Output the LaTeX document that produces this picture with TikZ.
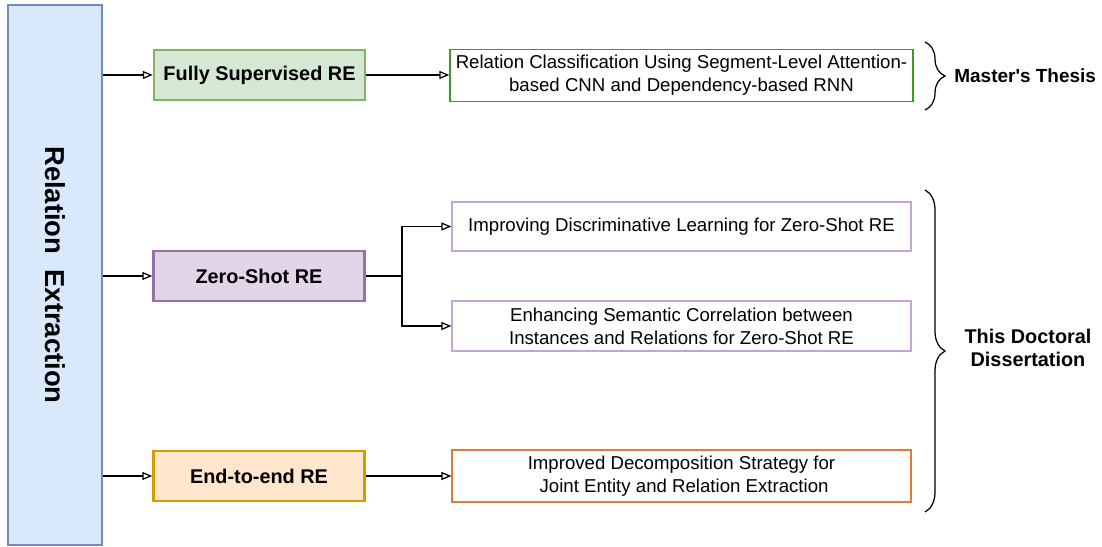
\documentclass[tikz,border=0pt]{standalone}
\usepackage{fontspec}
\setmainfont{Liberation Sans}
\usepackage{xcolor}
\usepackage{tikz}
\usetikzlibrary{shapes,arrows.meta,calc}
\usetikzlibrary{decorations.pathreplacing}
\definecolor{reBlueFill}{HTML}{DAE8FC}
\definecolor{reBlueLine}{HTML}{6C8EBF}
\definecolor{reGreenFill}{HTML}{D5E8D4}
\definecolor{reGreenLine}{HTML}{82B366}
\definecolor{reGreenDark}{HTML}{3F9A1F}
\definecolor{rePurpleFill}{HTML}{E1D5E7}
\definecolor{rePurpleLine}{HTML}{9673A6}
\definecolor{rePurpleLight}{HTML}{C3A6D6}
\definecolor{reOrangeFill}{HTML}{FFE6CC}
\definecolor{reOrangeLine}{HTML}{D79B00}
\definecolor{reOrangeDark}{HTML}{E07B39}
\tikzstyle{tsBold} = [
    text=black,
    font=\bfseries\fontsize{11.3}{13.2}\selectfont
]
\tikzstyle{tsPlain} = [
    text=black,
    font=\fontsize{10.6}{13}\selectfont,
    align=center
]
\tikzstyle{tsTask} = [
    rectangle,
    tsBold,
    line width=0.5mm,
    minimum width=4.22cm,
    minimum height=1cm
]
\tikzstyle{tsPaper} = [
    rectangle,
    tsPlain,
    line width=0.25mm,
    minimum width=9.18cm,
    minimum height=1cm
]
\tikzstyle{tsLink} = [
    -{Triangle[open, length=2mm, width=1.6mm]},
    line width=0.25mm
]
\tikzstyle{tsBrace} = [
    decorate,
    decoration={brace, amplitude=0.4cm},
    line width=0.25mm
]

\begin{document}
\begin{tikzpicture}
        \useasboundingbox (0,0) rectangle (22.04,10.94);

        % Define nodes
        \node[  rectangle,
                draw=reBlueLine,
                fill=reBlueFill,
                line width=0.5mm,
                minimum width=1.88cm,
                minimum height=10.8cm] (re) at (1.1,5.44) {};
        \node[  rotate=-90,
                font=\bfseries\fontsize{15.6}{18}\selectfont] (retext) at (re.center) {Relation\ \ Extraction};

        \node[  tsTask, draw=reGreenLine, fill=reGreenFill] (fs) at (5.19,9.44) {Fully Supervised RE};
        \node[  tsTask, draw=rePurpleLine, fill=rePurpleFill] (zs) at (5.18,5.42) {Zero-Shot RE};
        \node[  tsTask, draw=reOrangeLine, fill=reOrangeFill] (ee) at (5.18,1.42) {End-to-end RE};

        \node[  tsPaper, draw=reGreenDark] (rc) at (13.63,9.43) {Relation Classification Using Segment-Level Attention-\\based CNN and Dependency-based RNN};
        \node[  tsPaper, draw=rePurpleLight, minimum height=0.98cm] (idl) at (13.63,6.41) {Improving Discriminative Learning for Zero-Shot RE};
        \node[  tsPaper, draw=rePurpleLight] (esc) at (13.63,4.42) {Enhancing Semantic Correlation between\\Instances and Relations for Zero-Shot RE};
        \node[  tsPaper, draw=reOrangeDark] (ids) at (13.63,1.42) {Improved Decomposition Strategy for\\\ Joint Entity and Relation Extraction};

        \node[  tsBold, anchor=west, inner sep=0pt,
                font=\bfseries\fontsize{10.8}{13}\selectfont] (mt) at (19.08,9.42) {Master\textquotesingle s Thesis};
        \node[  tsBold, align=center] (dd) at (20.56,3.98) {This Doctoral\\Dissertation};

        \coordinate (split) at (8.04,5.42);

        \draw[tsLink] (re.east |- fs.west) -- (fs.west);
        \draw[tsLink] (re.east |- zs.west) -- (zs.west);
        \draw[tsLink] (re.east |- ee.west) -- (ee.west);
        \draw[tsLink] (fs.east) -- (fs.east -| rc.west);
        \draw[tsLink] (ee.east) -- (ee.east -| ids.west);
        \draw[line width=0.25mm] (zs.east) -- (split);
        \draw[tsLink] (split) |- (idl.west);
        \draw[tsLink] (split) |- (esc.west);

        \draw[tsBrace] (18.5,10.1) -- (18.5,8.74);
        \draw[tsBrace] (18.5,7.14) -- (18.5,0.7);

    \end{tikzpicture}
\end{document}
